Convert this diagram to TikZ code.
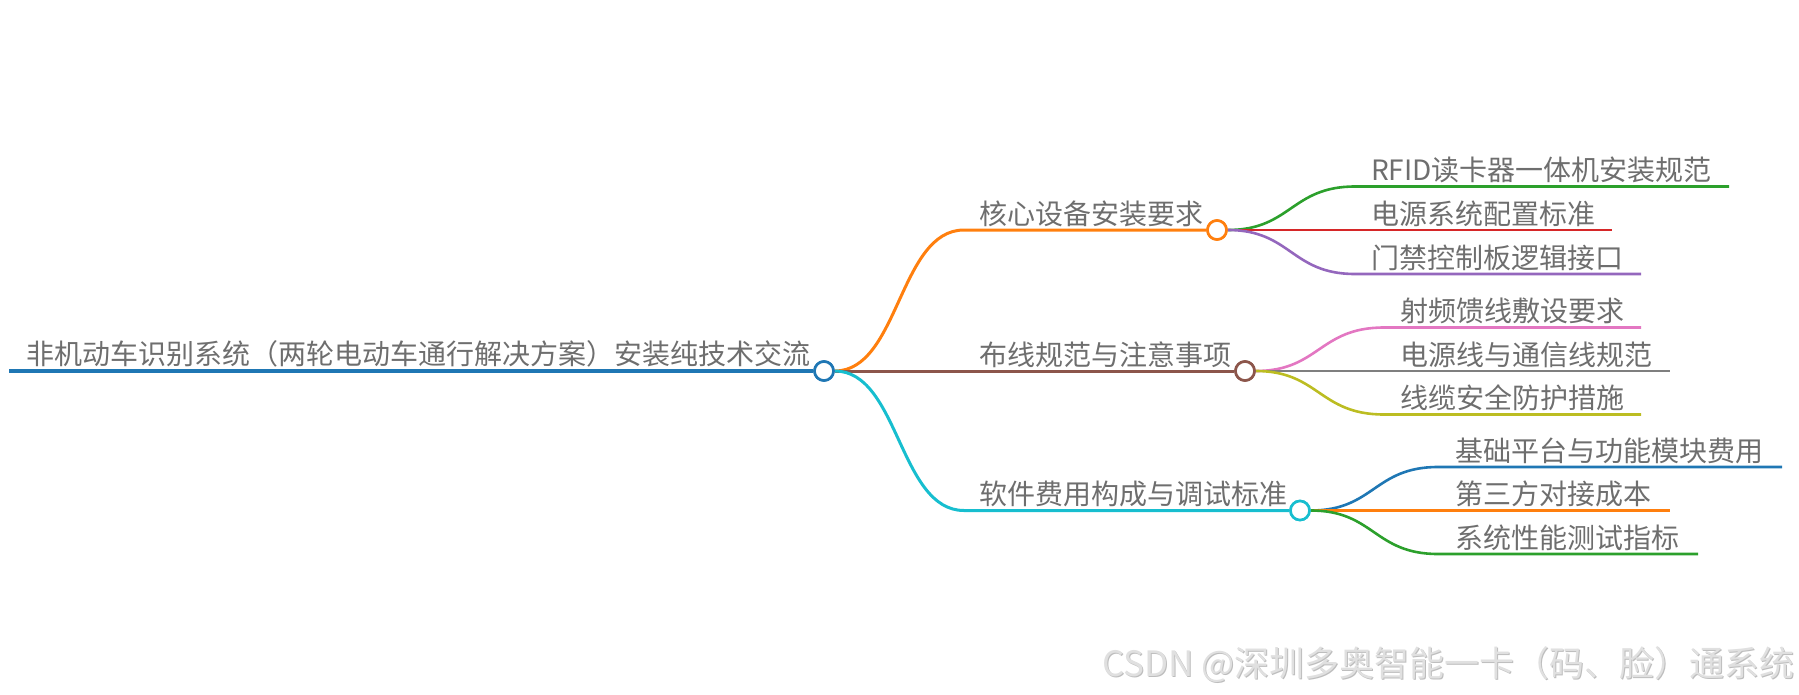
\documentclass[tikz,border=0pt]{standalone}
\usepackage{fontspec}
\setmainfont{Noto Sans CJK SC}
\definecolor{cblue}{HTML}{1F77B4}
\definecolor{corange}{HTML}{FF7F0E}
\definecolor{cgreen}{HTML}{2CA02C}
\definecolor{cred}{HTML}{D62728}
\definecolor{cpurple}{HTML}{9467BD}
\definecolor{cbrown}{HTML}{8C564B}
\definecolor{cpink}{HTML}{E377C2}
\definecolor{cgrey}{HTML}{7F7F7F}
\definecolor{colive}{HTML}{BCBD22}
\definecolor{ccyan}{HTML}{17BECF}
\definecolor{txtgray}{HTML}{6E6E6E}
\definecolor{wmfront}{HTML}{E0E0E0}
\definecolor{wmshadow}{HTML}{BDBDBD}
\begin{document}
\begin{tikzpicture}[x=1pt,y=-1pt,
  lbl/.style={anchor=base west,inner sep=0pt,text=txtgray,font=\fontsize{28}{32}\selectfont},
  dot/.style={circle,draw=#1,fill=white,line width=2.6pt,minimum size=19pt,inner sep=0pt},
  rootedge/.style={draw=#1,line width=4pt},
  edgeA/.style={draw=#1,line width=3pt},
  edgeB/.style={draw=#1,line width=2.6pt},
  wm/.style={anchor=base east,inner sep=0pt,font=\fontsize{35}{40}\selectfont}]
\useasboundingbox (0,0) rectangle (1799,694);

% watermark
\node[wm,text=wmshadow] (wms) at (1796,677) {CSDN @深圳多奥智能一卡（码、脸）通系统};
\node[wm,text=wmfront] (wmf) at (1795,676) {CSDN @深圳多奥智能一卡（码、脸）通系统};

% coordinates of line starts / ends
\coordinate (rs) at (9,371);
\coordinate (b1s) at (964,230);
\coordinate (b2s) at (964,371);
\coordinate (b3s) at (964,510.5);
\coordinate (c11s) at (1355,186.5);
\coordinate (c11e) at (1729,186.5);
\coordinate (c12e) at (1612,230);
\coordinate (c13s) at (1355,274);
\coordinate (c13e) at (1641,274);
\coordinate (c21s) at (1384,327.5);
\coordinate (c21e) at (1641,327.5);
\coordinate (c22e) at (1670,371);
\coordinate (c23s) at (1384,414.5);
\coordinate (c23e) at (1641,414.5);
\coordinate (c31s) at (1438,467);
\coordinate (c31e) at (1782,467);
\coordinate (c32e) at (1670,510.5);
\coordinate (c33s) at (1438,554);
\coordinate (c33e) at (1698,554);

% circles (positions; drawn again on top)
\path (824,371) node[dot=cblue] (root) {};
\path (1217,230) node[dot=corange] (b1) {};
\path (1245,371) node[dot=cbrown] (b2) {};
\path (1300,510.5) node[dot=ccyan] (b3) {};

% root line
\draw[rootedge=cblue] (rs) -- (root.west);

% branches
\draw[edgeA=corange] (root.east) .. controls (899,371) and (899,230) .. (b1s) -- (b1.west);
\draw[edgeA=cbrown] (root.east) -- (b2s) -- (b2.west);
\draw[edgeA=ccyan] (root.east) .. controls (899,371) and (899,510.5) .. (b3s) -- (b3.west);

% children of b1
\draw[edgeB=cgreen] (b1.east) .. controls (1291,230) and (1291,186.5) .. (c11s) -- (c11e);
\draw[edgeB=cred] (b1.east) -- (c12e);
\draw[edgeB=cpurple] (b1.east) .. controls (1291,230) and (1291,274) .. (c13s) -- (c13e);

% children of b2
\draw[edgeB=cpink] (b2.east) .. controls (1319,371) and (1319,327.5) .. (c21s) -- (c21e);
\draw[edgeB=cgrey] (b2.east) -- (c22e);
\draw[edgeB=colive] (b2.east) .. controls (1319,371) and (1319,414.5) .. (c23s) -- (c23e);

% children of b3
\draw[edgeB=cblue] (b3.east) .. controls (1374,510.5) and (1374,467) .. (c31s) -- (c31e);
\draw[edgeB=corange] (b3.east) -- (c32e);
\draw[edgeB=cgreen] (b3.east) .. controls (1374,510.5) and (1374,554) .. (c33s) -- (c33e);

% redraw circles on top
\path (824,371) node[dot=cblue] (rootc) {};
\path (1217,230) node[dot=corange] (b1c) {};
\path (1245,371) node[dot=cbrown] (b2c) {};
\path (1300,510.5) node[dot=ccyan] (b3c) {};

% labels
\node[lbl] (troot) at (26,364) {非机动车识别系统（两轮电动车通行解决方案）安装纯技术交流};
\node[lbl] (tb1) at (979,224) {核心设备安装要求};
\node[lbl] (tb2) at (979,365) {布线规范与注意事项};
\node[lbl] (tb3) at (979,504.5) {软件费用构成与调试标准};

\node[lbl] (tc11) at (1371,180.5) {RFID读卡器一体机安装规范};
\node[lbl] (tc12) at (1371,224) {电源系统配置标准};
\node[lbl] (tc13) at (1371,268) {门禁控制板逻辑接口};

\node[lbl] (tc21) at (1400,321.5) {射频馈线敷设要求};
\node[lbl] (tc22) at (1400,365) {电源线与通信线规范};
\node[lbl] (tc23) at (1400,408.5) {线缆安全防护措施};

\node[lbl] (tc31) at (1455,461) {基础平台与功能模块费用};
\node[lbl] (tc32) at (1455,504.5) {第三方对接成本};
\node[lbl] (tc33) at (1455,548) {系统性能测试指标};
\end{tikzpicture}
\end{document}
